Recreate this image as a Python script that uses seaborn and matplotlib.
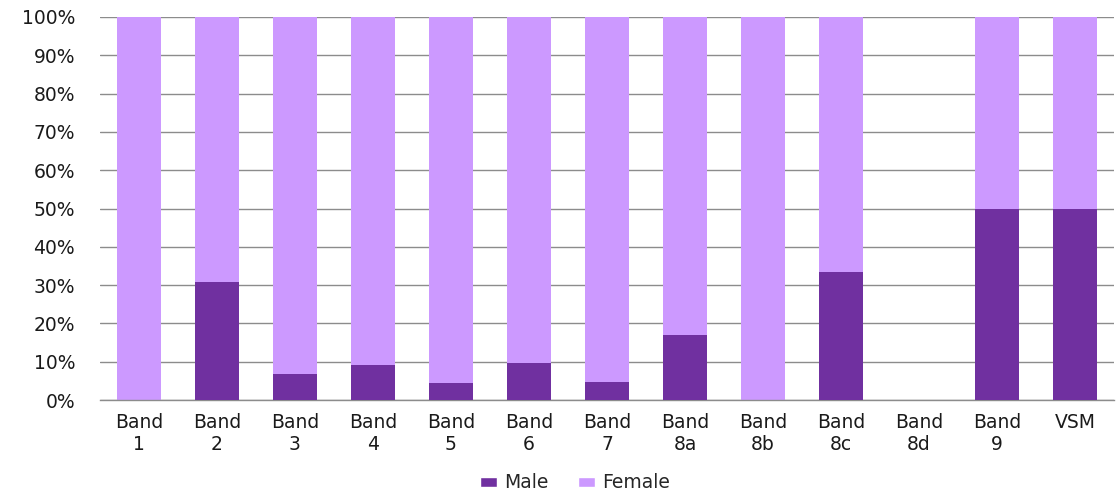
import matplotlib
matplotlib.use("Agg")
import matplotlib.pyplot as plt
from matplotlib.patches import Patch
import seaborn as sns
import pandas as pd

categories = ["Band\n1", "Band\n2", "Band\n3", "Band\n4", "Band\n5", "Band\n6", "Band\n7",
              "Band\n8a", "Band\n8b", "Band\n8c", "Band\n8d", "Band\n9", "VSM"]
male = [0.0, 30.9, 6.8, 9.1, 4.4, 9.6, 4.6, 17.0, 0.0, 33.3, 0.0, 50.0, 50.0]
female = [100.0, 69.1, 93.2, 90.9, 95.6, 90.4, 95.4, 83.0, 100.0, 66.7, 0.0, 50.0, 50.0]
yticks = [0, 10, 20, 30, 40, 50, 60, 70, 80, 90, 100]

MALE_C = "#7030A0"
FEMALE_C = "#CC99FF"

df = pd.DataFrame({"band": categories, "male": male, "female": female})
df["total"] = df["male"] + df["female"]

sns.set_style("white")
plt.rcParams["font.family"] = ["DejaVu Sans"]

fig = plt.figure(figsize=(11.18, 4.92), dpi=100)
ax = fig.add_axes([100 / 1118, 1 - 400 / 492, 1014 / 1118, 383 / 492])

# stacked: female segment sits on top of male segment
sns.barplot(data=df, x="band", y="total", color=FEMALE_C, width=0.565,
            saturation=1, ax=ax, zorder=2, linewidth=0)
sns.barplot(data=df, x="band", y="male", color=MALE_C, width=0.565,
            saturation=1, ax=ax, zorder=3, linewidth=0)

ax.set_ylim(0, 100)
ax.set_xlim(-0.5, len(categories) - 0.5)
ax.set_yticks(yticks)
ax.set_yticklabels([f"{v}%" for v in yticks])
ax.yaxis.grid(True, color="#8c8c8c", linewidth=1, zorder=0)
ax.set_axisbelow(True)
for s in ["top", "right", "left"]:
    ax.spines[s].set_visible(False)
ax.spines["bottom"].set_color("#8c8c8c")
ax.spines["bottom"].set_linewidth(1)
ax.set_xlabel("")
ax.set_ylabel("")
ax.tick_params(axis="both", length=0, labelsize=13.5, colors="#1a1a1a")
ax.tick_params(axis="x", pad=9)
ax.tick_params(axis="y", pad=18)
for lbl in ax.get_xticklabels():
    lbl.set_linespacing(1.25)

handles = [Patch(facecolor=MALE_C, label="Male"), Patch(facecolor=FEMALE_C, label="Female")]
fig.legend(handles=handles, loc="center", bbox_to_anchor=(575 / 1118, 1 - 483 / 492),
           ncol=2, frameon=False, fontsize=13.5, handlelength=0.9, handleheight=0.5,
           handletextpad=0.35, columnspacing=1.6)

fig.savefig("out.png", dpi=100)
